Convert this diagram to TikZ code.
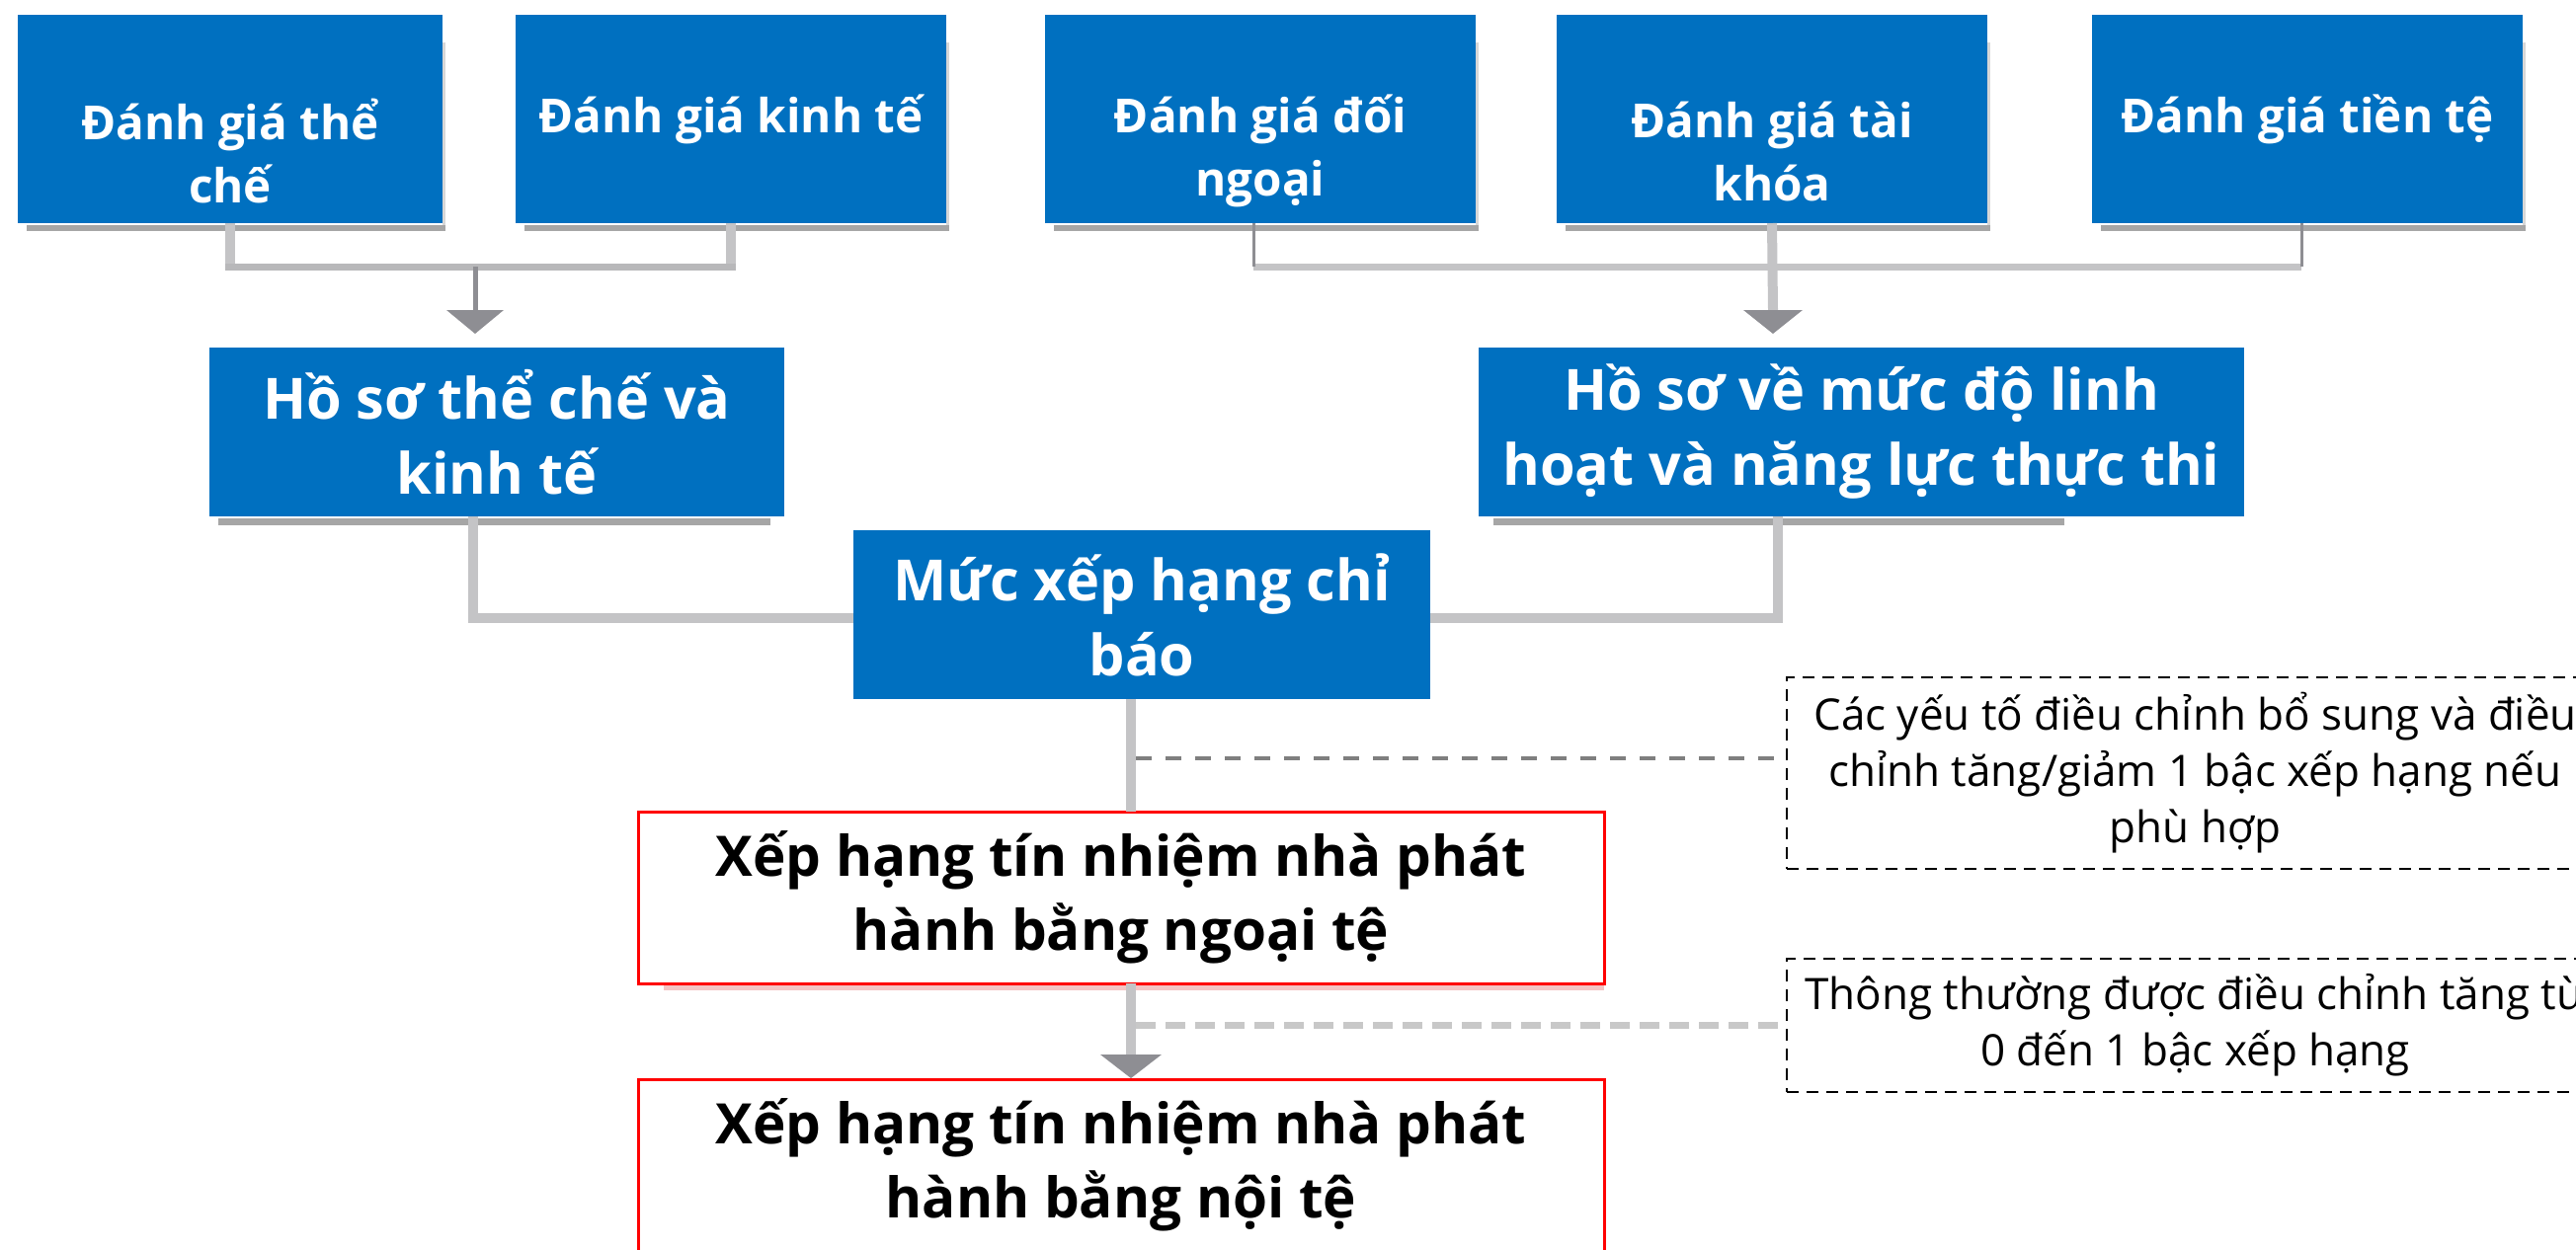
\documentclass[tikz,border=0pt]{standalone}
\usepackage{fontspec}
\setmainfont{Open Sans}
\usetikzlibrary{calc}
\definecolor{bblue}{HTML}{0070C0}
\definecolor{lgrey}{HTML}{C4C4C6}
\definecolor{dgrey}{HTML}{8E8E93}
\definecolor{sgrey}{HTML}{A6A6A6}
\definecolor{barL}{HTML}{B8B8BA}
\definecolor{dashA}{HTML}{7F7F7F}
\definecolor{dashB}{HTML}{C8C8C8}
\definecolor{pinkish}{HTML}{F4C4C4}
\tikzset{
  bluebox/.style={fill=bblue, inner sep=0pt, outer sep=0pt},
  redbox/.style={draw=red, line width=1.5pt, fill=white, inner sep=0pt, outer sep=0pt,
    text=black, align=center, font=\bfseries\fontsize{28.3pt}{37.5pt}\selectfont},
  notebox/.style={draw=black, line width=1pt, dash pattern=on 6pt off 4pt, inner sep=0pt, outer sep=0pt,
    align=center, font=\fontsize{22pt}{28.5pt}\selectfont},
  toptext/.style={text=white, align=center, inner sep=0pt, font=\bfseries\fontsize{23.8pt}{32pt}\selectfont},
  bigtext/.style={text=white, align=center, font=\bfseries\fontsize{28.8pt}{38pt}\selectfont},
  conn/.style={draw=lgrey, line width=5pt},
  connbar/.style={draw=lgrey, line width=3.5pt},
  connbarL/.style={draw=barL, line width=3.5pt},
  thindark/.style={draw=dgrey, line width=1.5pt},
  darkline/.style={draw=dgrey, line width=2.5pt},
  headfill/.style={fill=dgrey},
  dashone/.style={draw=dashA, line width=2pt, dash pattern=on 8pt off 7pt},
  dashtwo/.style={draw=dashB, line width=3.5pt, dash pattern=on 10pt off 5pt},
}
\begin{document}
\begin{tikzpicture}[x=0.5pt,y=-0.5pt]
\useasboundingbox (0,0) rectangle (2608,1265);
\clip (0,0) rectangle (2608,1265);

% ---------- top row boxes ----------
\node[bluebox, minimum width=215pt, minimum height=105.5pt] (b1) at (233,120.5) {};
\node[bluebox, minimum width=218pt, minimum height=105.5pt] (b2) at (740,120.5) {};
\node[bluebox, minimum width=218pt, minimum height=105.5pt] (b3) at (1276,120.5) {};
\node[bluebox, minimum width=218pt, minimum height=105.5pt] (b4) at (1794,120.5) {};
\node[bluebox, minimum width=218pt, minimum height=105.5pt] (b5) at (2336,120.5) {};
\foreach \b in {b1,b2,b3,b4,b5}{
  \fill[sgrey] ($(\b.south west)+(9,2)$) rectangle ($(\b.south east)+(3,8)$);
  \fill[sgrey!45] ($(\b.north east)+(0,28)$) rectangle ($(\b.south east)+(3,2)$);
}
\node[toptext] (t1) at (233,153) {Đánh giá thể\\chế};
\node[toptext] (t2) at (740,121) {Đánh giá kinh tế};
\node[toptext] (t3) at (1276,153) {Đánh giá đối\\ngoại};
\node[toptext] (t4) at (1794,153) {Đánh giá tài\\khóa};
\node[toptext] (t5) at (2336,121) {Đánh giá tiền tệ};

% ---------- profile boxes ----------
\fill[sgrey] (221,525) rectangle (780,532);
\fill[sgrey] (1512,525) rectangle (2090,532);
\node[bluebox, bigtext, minimum width=291pt, minimum height=85.5pt] (hl) at (503,437.5) {Hồ sơ thể chế và\\kinh tế};
\node[bluebox, bigtext, minimum width=387.5pt, minimum height=85.5pt] (hr) at (1884.5,437.5) {Hồ sơ về mức độ linh\\hoạt và năng lực thực thi};

% ---------- indicative rating ----------
\node[bluebox, bigtext, minimum width=292pt, minimum height=85.5pt] (m) at (1156,622.5) {Mức xếp hạng chỉ\\báo};

% ---------- red boxes ----------
\fill[pinkish] (672,997) rectangle (1624,1003);
\node[redbox, minimum width=489pt, minimum height=87pt] (r1) at (1135,909) {Xếp hạng tín nhiệm nhà phát\\hành bằng ngoại tệ};
\node[redbox, minimum width=489pt, minimum height=87pt] (r2) at (1135,1180) {Xếp hạng tín nhiệm nhà phát\\hành bằng nội tệ};

% ---------- note boxes ----------
\node[notebox, minimum width=413.5pt, minimum height=97pt] (n1) at (2222.5,783) {Các yếu tố điều chỉnh bổ sung và điều\\chỉnh tăng/giảm 1 bậc xếp hạng nếu\\phù hợp};
\node[notebox, minimum width=413.5pt, minimum height=67.5pt] (n2) at (2222.5,1038.5) {Thông thường được điều chỉnh tăng từ\\0 đến 1 bậc xếp hạng};

% ---------- top-left connectors ----------
\coordinate (jl) at (481,270);
\coordinate (al) at ($(hl.north -| jl)+(0,-14)$);
\draw[conn] (b1.south) -- (b1.south |- jl);
\draw[conn] (b2.south) -- (b2.south |- jl);
\draw[connbarL] ($(b1.south |- jl)+(-5,0)$) -- ($(b2.south |- jl)+(5,0)$);
\draw[darkline] (jl) -- ($(al)+(0,-24)$);
\fill[headfill] ($(al)+(-29,-24)$) -- ($(al)+(29,-24)$) -- (al) -- cycle;

% ---------- top-right connectors ----------
\coordinate (jr) at (1795,270);
\coordinate (ar) at ($(hr.north -| jr)+(0,-14)$);
\draw[connbar] ($(b3.south |- jr)+(-7,0)$) -- ($(b5.south |- jr)+(-6,0)$);
\draw[thindark] ($(b3.south)+(-7,0)$) -- ($(b3.south |- jr)+(-7,0)$);
\draw[thindark] ($(b5.south)+(-6,0)$) -- ($(b5.south |- jr)+(-6,0)$);
\draw[conn] (b4.south) -- ($(ar)+(0,-24)$);
\fill[headfill] ($(ar)+(-30,-24)$) -- ($(ar)+(30,-24)$) -- (ar) -- cycle;

% ---------- profiles to indicative rating ----------
\draw[conn] ($(hl.south)+(-24,0)$) |- ($(m.west)+(0,3.5)$);
\draw[conn] ($(hr.south)+(-84.5,0)$) |- ($(m.east)+(0,3.5)$);

% ---------- central flow ----------
\coordinate (vx) at (1145,0);
\draw[conn] (m.south -| vx) -- (r1.north -| vx);
\coordinate (ab) at ($(r2.north -| vx)+(0,-1)$);
\draw[conn] (r1.south -| vx) -- ($(ab)+(0,-24)$);
\fill[headfill] ($(ab)+(-31,-24)$) -- ($(ab)+(31,-24)$) -- (ab) -- cycle;

% ---------- dashed leaders ----------
\draw[dashone] ($(vx |- n1.west)+(5,-15)$) -- ($(n1.west)+(0,-15)$);
\draw[dashtwo] ($(vx |- n2.west)+(5,0)$) -- (n2.west);
\end{tikzpicture}
\end{document}
